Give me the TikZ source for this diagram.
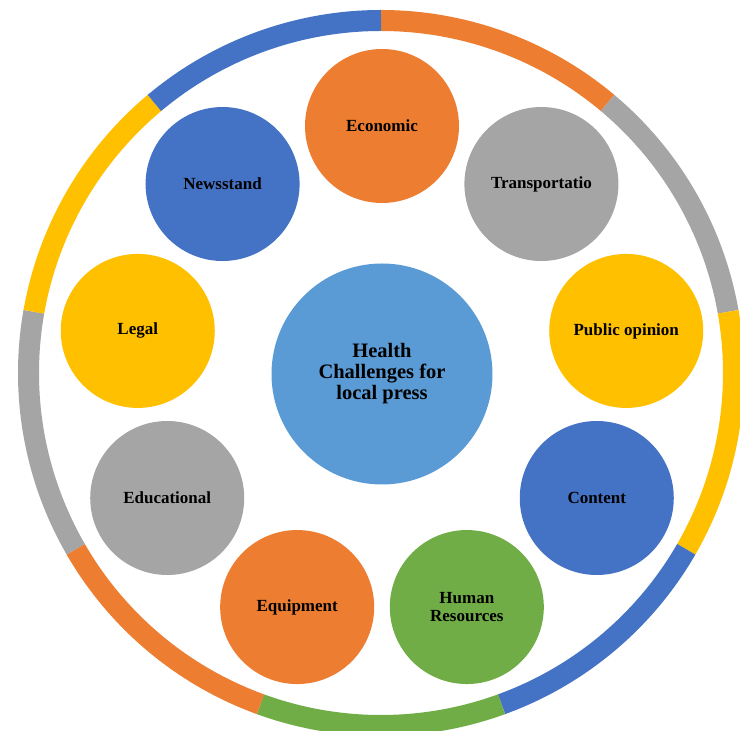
\documentclass[tikz,border=0pt]{standalone}
\usepackage{fontspec}
\setmainfont{Liberation Serif}
\definecolor{cOrange}{HTML}{ED7D31}
\definecolor{cGray}{HTML}{A5A5A5}
\definecolor{cYellow}{HTML}{FFC000}
\definecolor{cBlue}{HTML}{4472C4}
\definecolor{cGreen}{HTML}{70AD47}
\definecolor{cCenter}{HTML}{5B9BD5}
\begin{document}
\begin{tikzpicture}[x=1pt,y=1pt,
  bubble/.style={circle, minimum size=154pt, inner sep=0pt, align=center, text=black,
    font=\fontsize{17}{18}\selectfont\bfseries},
  hub/.style={circle, minimum size=221pt, inner sep=0pt, align=center, fill=cCenter, text=black,
    font=\fontsize{20.5}{21}\selectfont\bfseries},
  ringseg/.style={line width=21pt}]
\useasboundingbox (0,0) rectangle (740,731);
\clip (0,0) rectangle (740,731);
\fill[white] (0,0) rectangle (740,731);
\coordinate (ringC) at (381,358);
\foreach \a/\c in {90/cOrange, 50/cGray, 10/cYellow, -30/cBlue, -70/cGreen, -110/cOrange, -150/cGray, -190/cYellow, -230/cBlue}
  \draw[ringseg, \c] (ringC) ++(\a:352.5) arc[start angle=\a, end angle=\a-40, radius=352.5];
\node[hub] (hub) at (382,357) {Health\\Challenges for\\local press};
\path (hub.center) ++(90:248) node[bubble, fill=cOrange] (economic) {Economic};
\path (hub.center) ++(50:248) node[bubble, fill=cGray] (transport) {Transportatio};
\path (hub.center) ++(10:248) node[bubble, fill=cYellow] (opinion) {Public opinion};
\path (hub.center) ++(-30:248) node[bubble, fill=cBlue] (content) {Content};
\path (hub.center) ++(-70:248) node[bubble, fill=cGreen] (human) {Human\\Resources};
\path (hub.center) ++(-110:248) node[bubble, fill=cOrange] (equipment) {Equipment};
\path (hub.center) ++(-150:248) node[bubble, fill=cGray] (educational) {Educational};
\path (hub.center) ++(-190:248) node[bubble, fill=cYellow] (legal) {Legal};
\path (hub.center) ++(-230:248) node[bubble, fill=cBlue] (newsstand) {Newsstand};
\end{tikzpicture}
\end{document}
